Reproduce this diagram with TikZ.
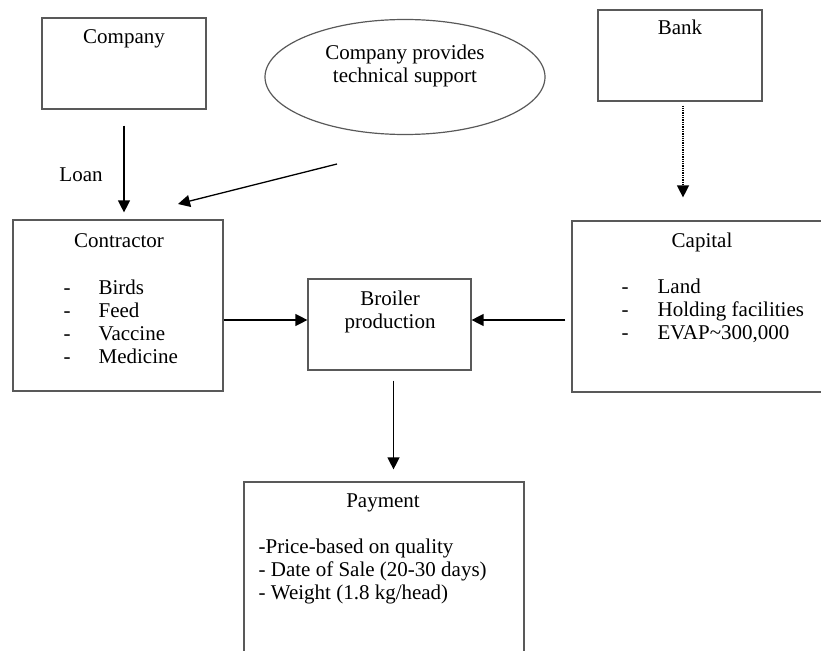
\documentclass[tikz,border=0pt]{standalone}
\usepackage{fontspec}
\setmainfont{Liberation Serif}
\usetikzlibrary{positioning,shapes,arrows.meta}
\tikzstyle{block}=[draw=black!65,line width=1.2pt,rectangle,inner sep=0pt]
\tikzstyle{txt}=[inner sep=0pt,anchor=base,font=\fontsize{21}{23.3}\selectfont]
\newcommand{\newBlock}[5]{\node[block,minimum width=#4pt,minimum height=#5pt](#1) at (#2,#3) {};}
\newcommand{\newText}[4]{\node[txt,#4](#1) at (#2) {#3};}
\newcommand{\newArrow}[3]{\draw[->,#3] (#1) -- (#2);}

\begin{document}
\begin{tikzpicture}[x=1pt,y=-1pt,
    >={Triangle[length=12pt,width=12pt]},line width=1.3pt
    ]
    \useasboundingbox (0,0) rectangle (821,650);
    % boxes
    \newBlock{company}{124}{63.5}{164}{91}
    \newBlock{bank}{680}{55.5}{164}{91}
    \newBlock{contractor}{118}{305.5}{210}{171}
    \newBlock{broiler}{389.5}{324.5}{163}{91}
    \newBlock{capital}{706}{306.5}{268}{171}
    \newBlock{payment}{384}{581}{280}{198}
    \node[block,ellipse,minimum width=280pt,minimum height=115pt] (tech) at (405,77) {};
    % titles
    \newText{companyT}{124,44}{Company}{}
    \newText{bankT}{680,35}{Bank}{}
    \newText{techA}{405,60}{Company provides}{}
    \newText{techB}{405,83}{technical support}{}
    \newText{loan}{81,181}{Loan}{}
    \newText{contractorT}{119,247}{Contractor}{}
    \newText{broilerA}{390,305}{Broiler}{}
    \newText{broilerB}{390,328}{production}{}
    \newText{capitalT}{702,247}{Capital}{}
    \newText{paymentT}{383,507}{Payment}{}
    \foreach \entry [count=\i] in {Birds,Feed,Vaccine,Medicine}{
      \newText{contrDash\i}{67,{294+23.3*(\i-1)}}{-}{}
      \newText{contrItem\i}{98,{294+23.3*(\i-1)}}{\entry}{anchor=base west}
    }
    \foreach \entry [count=\i] in {Land,Holding facilities,{EVAP\textasciitilde300,000}}{
      \newText{capDash\i}{625,{293+23.3*(\i-1)}}{-}{}
      \newText{capItem\i}{657,{293+23.3*(\i-1)}}{\entry}{anchor=base west}
    }
    \foreach \entry [count=\i] in {-Price-based on quality,- Date of Sale (20-30 days),- Weight (1.8 kg/head)}{
      \newText{payItem\i}{258,{553+23.3*(\i-1)}}{\entry}{anchor=base west}
    }
    % connectors
    \coordinate (techTail) at (337,164);
    \coordinate (techHead) at (178,204);
    \newArrow{company.south}{company.south |- contractor.north}{shorten <=16pt,shorten >=7pt}
    \newArrow{techTail}{techHead}{}
    \newArrow{[xshift=3pt]bank.south}{[xshift=3pt]bank.south |- capital.north}{densely dotted,shorten <=4pt,shorten >=23pt}
    \newArrow{[yshift=4.5pt]contractor.east |- broiler.west}{[yshift=4.5pt]broiler.west}{}
    \newArrow{[yshift=4.5pt]capital.west |- broiler.east}{[yshift=4.5pt]broiler.east}{shorten <=6pt}
    \newArrow{[xshift=4pt]broiler.south}{[xshift=4pt]broiler.south |- payment.north}{shorten <=10pt,shorten >=12pt}
  \end{tikzpicture}
\end{document}
